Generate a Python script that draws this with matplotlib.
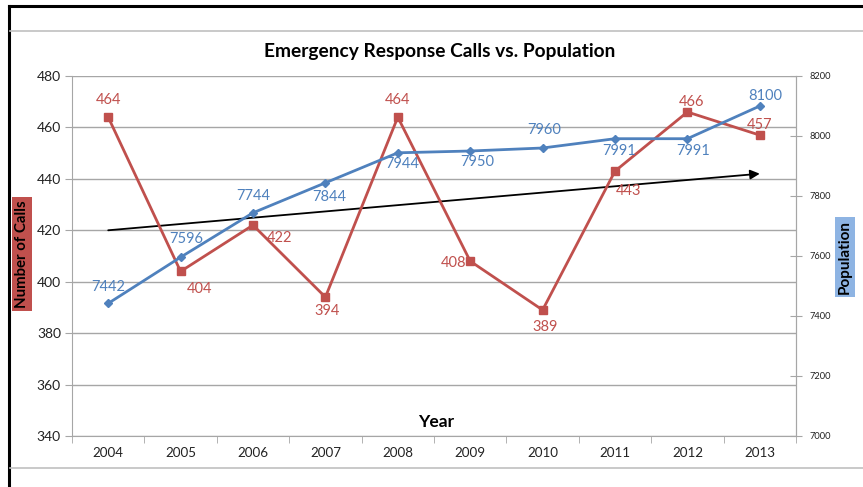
import matplotlib
matplotlib.use("Agg")
import matplotlib.pyplot as plt
from matplotlib.lines import Line2D
from matplotlib.ticker import FixedLocator, NullFormatter

plt.rcParams['font.family'] = ['Lato', 'DejaVu Sans']

years = ['2004', '2005', '2006', '2007', '2008', '2009', '2010', '2011', '2012', '2013']
calls = [464, 404, 422, 394, 464, 408, 389, 443, 466, 457]
population = [7442, 7596, 7744, 7844, 7944, 7950, 7960, 7991, 7991, 8100]
trend_calls = [420, 442]  # trend arrow start (2004) and end (2013), on calls axis

RED = '#C0504D'
BLUE = '#4F81BD'
GRID = '#A6A6A6'

fig = plt.figure(figsize=(8.63, 4.87), dpi=100)
W, H = 863, 487
ax = fig.add_axes([72 / W, 1 - 436 / H, (796 - 72) / W, (436 - 76) / H])
ax2 = ax.twinx()

x = list(range(len(years)))

# Axis setup
ax.set_xlim(-0.5, len(years) - 0.5)
ax.set_ylim(340, 480)
ax.set_yticks(range(340, 481, 20))
ax.yaxis.grid(True, color=GRID, lw=1)
ax.set_axisbelow(True)
ax.set_xticks(x)
ax.set_xticklabels(years, fontsize=9.6)
ax.xaxis.set_minor_locator(FixedLocator([i - 0.5 for i in range(len(years) + 1)]))
ax.xaxis.set_minor_formatter(NullFormatter())
ax.tick_params(axis='x', which='major', length=0, pad=8, colors='#222222')
ax.tick_params(axis='x', which='minor', length=5, color=GRID, direction='out')
ax.tick_params(axis='y', length=5, color=GRID, labelsize=10, colors='#222222', pad=3)
ax.spines['top'].set_visible(False)
for s in ['left', 'bottom', 'right']:
    ax.spines[s].set_color(GRID)

ax2.set_ylim(7000, 8200)
ax2.set_yticks(range(7000, 8201, 200))
ax2.tick_params(axis='y', direction='inout', length=8, color=GRID, labelsize=6.7, colors='#222222', pad=6)
for s in ['top', 'left', 'bottom']:
    ax2.spines[s].set_visible(False)
ax2.spines['right'].set_color(GRID)

# Trend arrow
ax.annotate('', xy=(x[-1], trend_calls[1]), xytext=(x[0], trend_calls[0]),
            arrowprops=dict(arrowstyle='-|>', color='black', lw=1.3,
                            mutation_scale=14, shrinkA=0, shrinkB=0), zorder=3)

# Series
ax.plot(x, calls, color=RED, lw=2, marker='s', ms=6, zorder=4)
ax2.plot(x, population, color=BLUE, lw=2, marker='D', ms=4, zorder=4)

# Data label offsets (points)
call_off = [(0, 12, 'center'), (14, -13, 'center'), (10, -9, 'left'), (1, -10, 'center'),
            (0, 12, 'center'), (-3, -1, 'right'), (2, -12, 'center'), (10, -14, 'center'),
            (3, 7, 'center'), (0, 7, 'center')]
pop_off = [(0, 12, 'center'), (4, 13, 'center'), (0, 12, 'center'), (3, -10, 'center'),
           (3, -8, 'center'), (5, -8, 'center'), (1, 13, 'center'), (3, -9, 'center'),
           (4, -9, 'center'), (4, 7, 'center')]
for xi, v, (dx, dy, ha) in zip(x, calls, call_off):
    ax.annotate(str(v), (xi, v), xytext=(dx, dy), textcoords='offset points',
                ha=ha, va='center', color=RED, fontsize=10.5, zorder=5)
for xi, v, (dx, dy, ha) in zip(x, population, pop_off):
    ax2.annotate(str(v), (xi, v), xytext=(dx, dy), textcoords='offset points',
                 ha=ha, va='center', color=BLUE, fontsize=10.5, zorder=5)

# Title and axis labels
fig.text(440 / W, 1 - 52 / H, 'Emergency Response Calls vs. Population',
         ha='center', va='center', fontsize=13.8, fontweight='bold', color='black')
fig.text(436 / W, 1 - 422 / H, 'Year', ha='center', va='center',
         fontsize=12.5, fontweight='bold', color='black')
fig.text(22 / W, 1 - 254 / H, 'Number of Calls', ha='center', va='center', rotation=90,
         fontsize=10.8, fontweight='bold', color='black',
         bbox=dict(boxstyle='square,pad=0.22', fc=RED, ec='none'))
fig.text(845 / W, 1 - 257 / H, 'Population', ha='center', va='center', rotation=90,
         fontsize=11, fontweight='bold', color='black',
         bbox=dict(boxstyle='square,pad=0.22', fc='#8EB4E3', ec='none'))

# Frame lines
fig.add_artist(Line2D([9 / W, 9 / W], [0, 1 - 6 / H], color='black', lw=2.2))
fig.add_artist(Line2D([9 / W, 1], [1 - 6 / H, 1 - 6 / H], color='black', lw=2.2))
fig.add_artist(Line2D([10 / W, 1], [1 - 31 / H, 1 - 31 / H], color='#C0C0C0', lw=1.2))
fig.add_artist(Line2D([10 / W, 1], [1 - 468 / H, 1 - 468 / H], color='#C0C0C0', lw=1.2))

fig.savefig('out.png', dpi=100)
